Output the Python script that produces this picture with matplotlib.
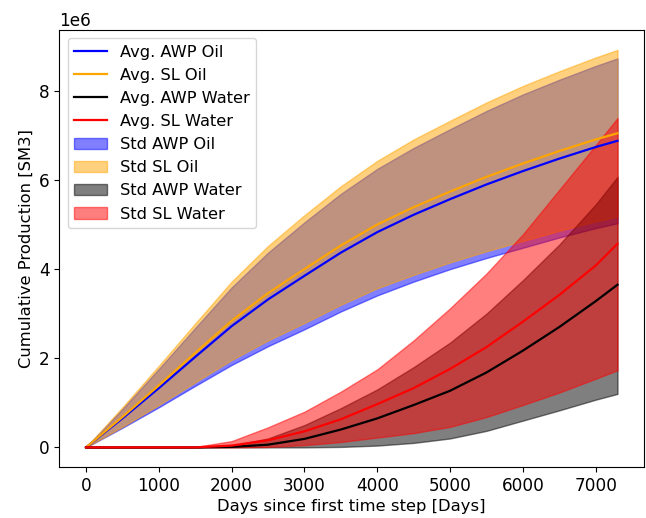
import numpy as np
import matplotlib
matplotlib.use("Agg")
import matplotlib.pyplot as plt

days = [0, 500, 1000, 1500, 2000, 2500, 3000, 3500, 4000, 4500, 5000, 5500, 6000, 6500, 7000, 7300]

# Oil: mean and standard deviation (million SM3)
awp_oil_mean = [0, 0.65, 1.33, 2.03, 2.72, 3.32, 3.85, 4.37, 4.83, 5.22, 5.57, 5.90, 6.20, 6.48, 6.74, 6.88]
awp_oil_std = [0, 0.21, 0.43, 0.65, 0.87, 1.05, 1.20, 1.32, 1.42, 1.50, 1.57, 1.65, 1.72, 1.77, 1.82, 1.85]
sl_oil_mean = [0, 0.68, 1.39, 2.12, 2.84, 3.46, 4.00, 4.53, 5.00, 5.39, 5.74, 6.07, 6.37, 6.65, 6.91, 7.05]
sl_oil_std = [0, 0.22, 0.44, 0.66, 0.88, 1.06, 1.21, 1.33, 1.43, 1.52, 1.59, 1.67, 1.74, 1.79, 1.84, 1.87]

# Water: mean, lower and upper edge of the std band (million SM3)
awp_water_mean = [0, 0, 0, 0, 0.01, 0.06, 0.19, 0.40, 0.65, 0.95, 1.27, 1.68, 2.17, 2.70, 3.28, 3.65]
awp_water_low = [0, 0, 0, 0, 0, 0, 0, 0.01, 0.04, 0.10, 0.20, 0.37, 0.60, 0.83, 1.07, 1.20]
awp_water_high = [0, 0, 0, 0, 0.04, 0.20, 0.50, 0.88, 1.30, 1.80, 2.35, 3.00, 3.75, 4.55, 5.45, 6.07]
sl_water_mean = [0, 0, 0, 0, 0.04, 0.16, 0.36, 0.63, 0.97, 1.33, 1.76, 2.25, 2.82, 3.42, 4.08, 4.57]
sl_water_low = [0, 0, 0, 0, 0, 0.01, 0.05, 0.12, 0.22, 0.32, 0.46, 0.68, 0.95, 1.23, 1.54, 1.73]
sl_water_high = [0, 0, 0, 0.01, 0.14, 0.45, 0.80, 1.25, 1.75, 2.40, 3.12, 3.90, 4.78, 5.78, 6.78, 7.39]

scale = 1e6
d = np.array(days)

def arr(v):
    return np.array(v, dtype=float) * scale

fig = plt.figure(figsize=(6.46, 5.18), dpi=100)
ax = fig.add_subplot(111)
fig.subplots_adjust(left=0.092, right=0.997, top=0.942, bottom=0.098)

ax.plot(d, arr(awp_oil_mean), color='blue', lw=1.6, label='Avg. AWP Oil')
ax.plot(d, arr(sl_oil_mean), color='orange', lw=1.6, label='Avg. SL Oil')
ax.plot(d, arr(awp_water_mean), color='black', lw=1.6, label='Avg. AWP Water')
ax.plot(d, arr(sl_water_mean), color='red', lw=1.6, label='Avg. SL Water')

ax.fill_between(d, arr(awp_oil_mean) - arr(awp_oil_std), arr(awp_oil_mean) + arr(awp_oil_std),
                color='blue', alpha=0.5, label='Std AWP Oil')
ax.fill_between(d, arr(sl_oil_mean) - arr(sl_oil_std), arr(sl_oil_mean) + arr(sl_oil_std),
                color='orange', alpha=0.5, label='Std SL Oil')
ax.fill_between(d, arr(awp_water_low), arr(awp_water_high),
                color='black', alpha=0.5, label='Std AWP Water')
ax.fill_between(d, arr(sl_water_low), arr(sl_water_high),
                color='red', alpha=0.5, label='Std SL Water')

ax.tick_params(labelsize=12.2)
ax.yaxis.get_offset_text().set_fontsize(12.2)
ax.set_xlabel('Days since first time step [Days]', fontsize=11.8, labelpad=3)
ax.set_ylabel('Cumulative Production [SM3]', fontsize=11.8)
ax.legend(loc='upper left', fontsize=11.7)

fig.savefig('out.png', dpi=100)
